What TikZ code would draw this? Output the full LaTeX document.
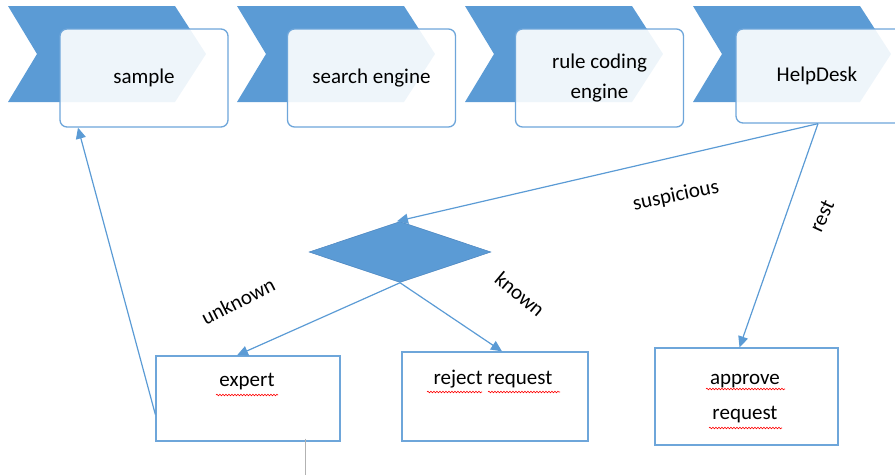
\documentclass[tikz,border=0pt]{standalone}
\usepackage{fontspec}
\setmainfont{Carlito}
\usetikzlibrary{shapes.geometric,arrows.meta,decorations.pathmorphing,calc}
\definecolor{cblue}{HTML}{5B9BD5}
\definecolor{lblue}{HTML}{6EA6DA}
\definecolor{dblue}{HTML}{4A84BE}
\begin{document}
\begin{tikzpicture}[x=1pt,y=-1pt,
  font=\fontsize{21}{27}\selectfont,
  chevshape/.style={fill=cblue,draw=none},
  stepbox/.style={draw=lblue,line width=1.3pt,rounded corners=7pt,fill=white,fill opacity=0.9,text opacity=1,
    minimum width=168pt,minimum height=98pt,align=center,inner sep=0pt},
  outbox/.style={draw=lblue,line width=1.3pt,fill=white,inner sep=0pt},
  conn/.style={draw=cblue,line width=1.2pt,-{Triangle[length=11pt,width=10pt]}},
  lbl/.style={inner sep=0pt,text=black},
  squig/.style={draw=red,line width=0.6pt,decorate,decoration={snake,amplitude=0.8pt,segment length=3pt}}]
\useasboundingbox (0,0) rectangle (895,475);
\clip (0,0) rectangle (895,475);
% chevrons
\foreach \xl in {8,237,465,693}{
  \fill[chevshape] (\xl,6) -- ++(167,0) -- ++(31,48) -- ++(-31,48) -- ++(-167,0) -- ++(29,-48) -- cycle;
}
% top boxes
\node[stepbox] (sa) at (144,78) {sample};
\node[stepbox] (se) at (371.5,78) {search engine};
\node[stepbox,font=\fontsize{21}{30}\selectfont] (ru) at (599.5,78) {rule coding\\engine};
\node[stepbox,minimum height=94pt] (hd) at (820,76) {};
\node[lbl] (hdt) at (817,76) {HelpDesk};
% decision diamond
\node[diamond,fill=cblue,draw=dblue,line width=0.5pt,minimum width=182pt,minimum height=61pt,inner sep=0pt] (dm) at (400,252) {};
% bottom boxes
\node[outbox,minimum width=184pt,minimum height=85pt] (ex) at (248,398.5) {};
\node[lbl] (ext) at (247,382) {expert};
\node[outbox,minimum width=186pt,minimum height=89pt] (rj) at (495,396.5) {};
\node[lbl] (rjt) at (493,379) {reject request};
\node[outbox,minimum width=183pt,minimum height=97pt] (ap) at (746.5,396.5) {};
\node[lbl,align=center,font=\fontsize{21}{35}\selectfont] (apt) at (745,399) {approve\\request};
% spell-check underlines
\draw[squig] (216,395) -- (278,395);
\draw[squig] (427,392) -- (482,392);
\draw[squig] (488,392) -- (560,392);
\draw[squig] (706,389) -- (785,389);
\draw[squig] (709,428) -- (782,428);
% connectors
\coordinate (hdo) at ([xshift=-2pt]hd.south);
\draw[conn] (hdo) -- ([xshift=-3pt]dm.north);
\draw[conn] (hdo) -- ([xshift=-7pt]ap.north);
\draw[conn] (dm.south) -- ([xshift=-11pt]ex.north);
\draw[conn] (dm.south) -- ([xshift=7pt]rj.north);
\draw[conn] ([yshift=-16pt]ex.west) -- ([xshift=-66pt]sa.south);
\coordinate (gl) at (305,475);
\draw[gray!60,line width=1pt] ([xshift=57pt,yshift=3pt]ex.south) -- (gl);
% labels
\node[lbl,rotate=12] (l1) at (676,196) {suspicious};
\node[lbl,rotate=65] (l2) at (822,216) {rest};
\node[lbl,rotate=27] (l3) at (238,301) {unknown};
\node[lbl,rotate=-40] (l4) at (520,294) {known};
\end{tikzpicture}
\end{document}
